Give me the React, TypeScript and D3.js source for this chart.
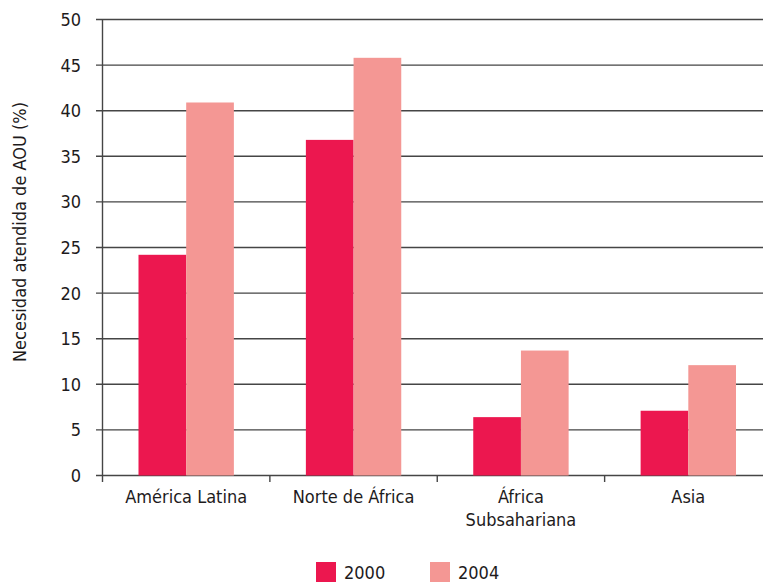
import React from "react";
import * as d3 from "d3";

const categories = ["América Latina", "Norte de África", "África Subsahariana", "Asia"];
const categoryLines = [["América Latina"], ["Norte de África"], ["África", "Subsahariana"], ["Asia"]];
const series = ["2000", "2004"];
const values2000 = [24.2, 36.8, 6.4, 7.1];
const values2004 = [40.9, 45.8, 13.7, 12.1];
const yTicks = [0, 5, 10, 15, 20, 25, 30, 35, 40, 45, 50];
const colors = ["#ec174f", "#f49794"];
const yLabel = "Necesidad atendida de AOU (%)";

const W = 763;
const H = 583;
const FONT = "'Liberation Sans Narrow', 'DejaVu Sans Condensed', 'Arial Narrow', sans-serif";
const INK = "#1e1b1c";

export default function App() {
  const x = d3.scaleBand<string>().domain(categories).range([102.5, 772]);
  const bw = x.bandwidth();
  const xs = d3.scaleBand<string>().domain(series).range([36, bw - 36]);
  const y = d3.scaleLinear().domain([0, 50]).range([475.5, 19.5]);
  const data = [values2000, values2004];

  return (
    <svg width={W} height={H} style={{ position: "absolute", left: 0, top: 0, background: "#fff" }}>
      {yTicks.map((t) => (
        <line key={"g" + t} x1={96} x2={W} y1={y(t)} y2={y(t)} stroke="#454545" strokeWidth={1.4} />
      ))}
      {yTicks.map((t) => (
        <text
          key={"t" + t}
          x={81}
          y={y(t)}
          dy="0.36em"
          textAnchor="end"
          fontFamily={FONT}
          fontSize={18}
          fill={INK}
        >
          {t}
        </text>
      ))}
      {categories.map((c, i) =>
        series.map((s, j) => (
          <rect
            key={c + s}
            x={(x(c) as number) + (xs(s) as number)}
            y={y(data[j][i])}
            width={xs.bandwidth()}
            height={y(0) - y(data[j][i])}
            fill={colors[j]}
          />
        ))
      )}
      <line x1={102.5} x2={102.5} y1={19} y2={482} stroke="#454545" strokeWidth={1.4} />
      {categories.slice(1).map((c) => (
        <line
          key={"bt" + c}
          x1={(x(c) as number)}
          x2={(x(c) as number)}
          y1={475}
          y2={482}
          stroke="#454545"
          strokeWidth={1.4}
        />
      ))}
      {categories.map((c, i) => (
        <text
          key={"c" + c}
          x={(x(c) as number) + bw / 2}
          y={503}
          textAnchor="middle"
          fontFamily={FONT}
          fontSize={18}
          fill={INK}
        >
          {categoryLines[i].map((l, k) => (
            <tspan key={k} x={(x(c) as number) + bw / 2} dy={k === 0 ? 0 : 23}>
              {l}
            </tspan>
          ))}
        </text>
      ))}
      <text
        transform={`translate(25.5,232) rotate(-90)`}
        textAnchor="middle"
        fontFamily={FONT}
        fontSize={18}
        fill={INK}
      >
        {yLabel}
      </text>
      {series.map((s, j) => (
        <g key={"l" + s} transform={`translate(${316 + j * 114},562)`}>
          <rect width={20} height={20} fill={colors[j]} />
          <text x={28} y={10} dy="0.38em" fontFamily={FONT} fontSize={18} fill={INK}>
            {s}
          </text>
        </g>
      ))}
    </svg>
  );
}
